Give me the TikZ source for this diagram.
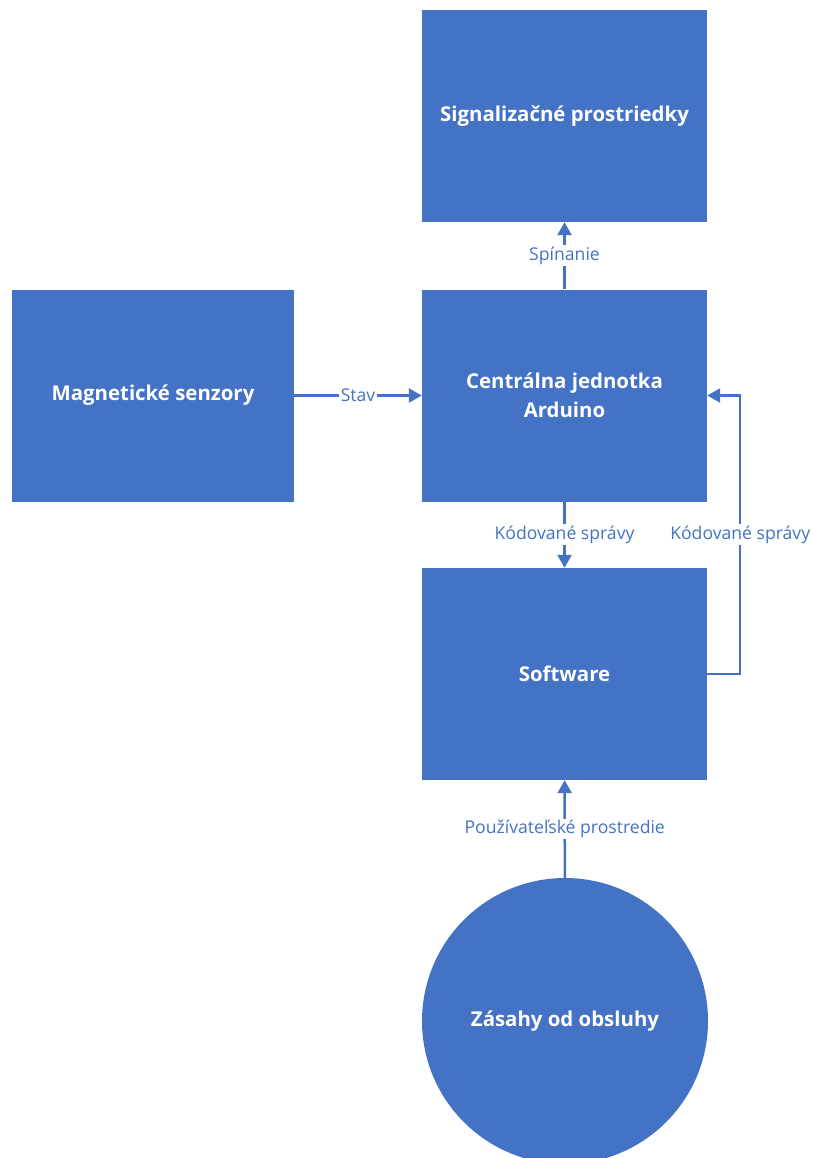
\documentclass[tikz,border=0pt]{standalone}
\usepackage{fontspec}
\setmainfont{Open Sans}
\usetikzlibrary{arrows.meta, positioning}
\definecolor{boxblue}{HTML}{4472C4}
\tikzset{
    block/.style={fill=boxblue, minimum width=285pt, minimum height=212pt,
        text=white, align=center, font=\bfseries\fontsize{20.4}{29}\selectfont},
    link/.style={draw=boxblue, line width=2.5pt,
        -{Triangle[length=13pt, width=14pt]}},
    lbl/.style={fill=white, text=boxblue, inner sep=1.5pt,
        font=\fontsize{17.6}{20}\selectfont}
}

\begin{document}
\begin{tikzpicture}[x=1pt, y=-1pt]
    \useasboundingbox (0,0) rectangle (813,1158);
    \clip (0,0) rectangle (813,1158);
    \node[block](signal)                                at (564.5,116)   {Signalizačné prostriedky};
    \node[block, minimum width=282pt](senzory)          at (153,395.5)   {Magnetické senzory};
    \node[block](arduino)                               at (564.5,395.5) {Centrálna jednotka\\Arduino};
    \node[block](software)                              at (564.5,674)   {Software};
    \node[block, circle, minimum size=286pt](obsluha)   at (565,1021)    {Zásahy od obsluhy};
    % Connections
    \path
        (senzory)
            edge [link] node [lbl] {Stav} (arduino)
        (arduino)
            edge [link] node [lbl] {Spínanie} (signal)
            edge [link] node [lbl] {Kódované správy} (software)
        (obsluha)
            edge [link] node [lbl] {Používateľské prostredie} (software)
        ;
    \draw[link] (software.east) -- ++(33,0) |- (arduino.east)
        node [lbl, pos=0.25] {Kódované správy};
\end{tikzpicture}
\end{document}
